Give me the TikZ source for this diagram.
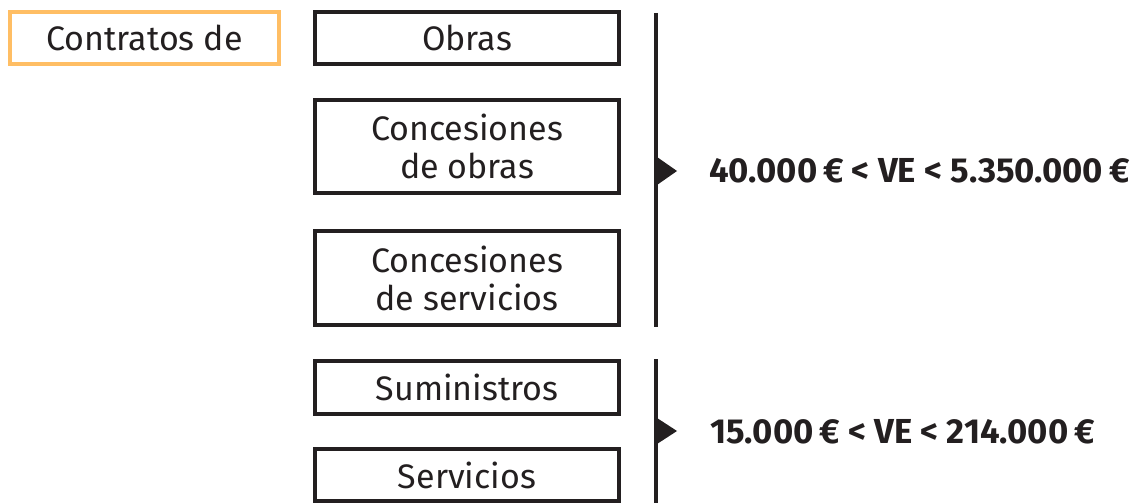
\documentclass[tikz,border=0pt]{standalone}
\usepackage{fontspec}
\setmainfont{Fira Sans}
\usepackage{xcolor}
\usepackage{tikz}
\usetikzlibrary{positioning,calc}
\definecolor{ink}{HTML}{231F20}
\definecolor{apricot}{HTML}{FFBE64}

\begin{document}
\begin{tikzpicture}[x=1pt, y=-1pt,
    catbox/.style={draw=ink, line width=4pt, text=ink, align=center,
                   minimum width=304pt, inner sep=0pt,
                   font=\fontsize{34}{38}\selectfont},
    headbox/.style={draw=apricot, line width=4pt, text=ink,
                    minimum width=269pt, minimum height=52pt, inner sep=0pt,
                    font=\fontsize{34}{38}\selectfont},
    bar/.style={draw=ink, line width=4pt},
    pointer/.style={fill=ink},
    valrange/.style={text=ink, anchor=west, inner sep=0pt,
                  font=\fontsize{34.7}{38}\selectfont\bfseries},
  ]
    \useasboundingbox (0,0) rectangle (1132,503);

    % heading
    \node[headbox] (head) at (144.5,38) {Contratos de};

    % contract types, first group
    \node[catbox, minimum height=52pt] (obras)   at (467,38)    {Obras};
    \node[catbox, minimum height=93pt] (concob)  at (467,146.5) {Concesiones\\de obras};
    \node[catbox, minimum height=94pt] (concser) at (467,278)   {Concesiones\\de servicios};

    % contract types, second group
    \node[catbox, minimum height=53pt] (sumin) at (467,387.5) {Suministros};
    \node[catbox, minimum height=52pt] (serv)  at (467,475)   {Servicios};

    % brackets with pointers
    \coordinate (barA1) at (655.5,13);
    \coordinate (barA2) at (655.5,327);
    \coordinate (barB1) at (655.5,359);
    \coordinate (barB2) at (655.5,503);
    \draw[bar] (barA1) -- (barA2);
    \draw[bar] (barB1) -- (barB2);
    \fill[pointer] (657,157) -- (677,171) -- (657,185) -- cycle;
    \fill[pointer] (657,418) -- (677,431) -- (657,444) -- cycle;

    % value ranges
    \node[valrange] (rangeA) at (709,171) {40.000\,€ < VE < 5.350.000\,€};
    \node[valrange] (rangeB) at (710,432) {15.000\,€ < VE < 214.000\,€};
  \end{tikzpicture}
\end{document}
